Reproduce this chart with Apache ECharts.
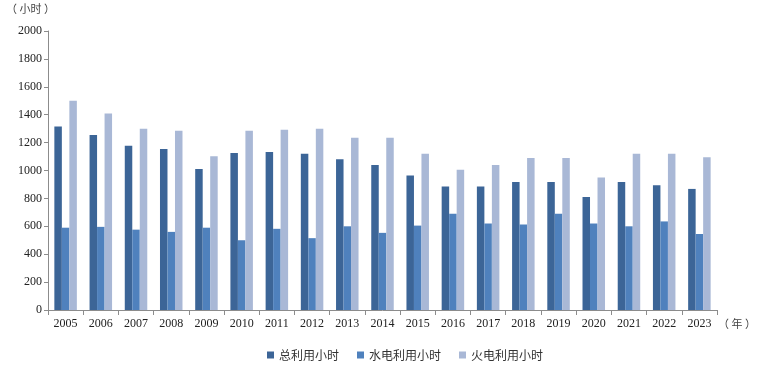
<!doctype html>
<html>
<head>
<meta charset="utf-8">
<title></title>
<script src="https://cdn.jsdelivr.net/npm/echarts@6/dist/echarts.min.js"></script>
<style>
  html, body { margin: 0; padding: 0; background: #fff; }
  #container { width: 759px; height: 376px; }
</style>
</head>
<body>
<div id="container"></div>
<script type="text/javascript">
var years = ['2005', '2006', '2007', '2008', '2009', '2010', '2011', '2012', '2013', '2014',
  '2015', '2016', '2017', '2018', '2019', '2020', '2021', '2022', '2023'];
var totalHours = [1315, 1255, 1178, 1155, 1010, 1125, 1132, 1120, 1080, 1040,
  965, 885, 885, 918, 918, 810, 918, 895, 868];
var hydroHours = [590, 596, 576, 560, 590, 500, 582, 515, 600, 553,
  605, 690, 620, 613, 690, 620, 600, 635, 545];
var thermalHours = [1500, 1408, 1300, 1285, 1103, 1285, 1292, 1300, 1235, 1235,
  1120, 1005, 1040, 1090, 1090, 950, 1120, 1120, 1095];
var seriesNames = ['总利用小时', '水电利用小时', '火电利用小时'];
var colors = ['#3c6597', '#4f81bd', '#a9b8d6'];

var dom = document.getElementById('container');
var myChart = echarts.init(dom);

var axisColor = '#8c8c8c';
var labelFont = { fontFamily: 'Liberation Serif', fontSize: 12, color: '#222' };

var option = {
  animation: false,
  color: colors,
  grid: { left: 48, right: 42, top: 31, bottom: 66 },
  legend: {
    bottom: 10,
    left: 262,
    itemWidth: 7,
    itemHeight: 7,
    itemGap: 18,
    icon: 'rect',
    textStyle: { fontFamily: 'Noto Sans CJK SC', fontSize: 12, color: '#333' },
    data: seriesNames
  },
  graphic: [
    { type: 'text', left: 6, top: 3, style: { text: '（ 小时 ）', fontFamily: 'Noto Sans CJK SC', fontSize: 11, fill: '#444' } },
    { type: 'text', left: 718, top: 318, style: { text: '（ 年 ）', fontFamily: 'Noto Sans CJK SC', fontSize: 11, fill: '#444' } }
  ],
  xAxis: {
    type: 'category',
    data: years,
    axisLine: { lineStyle: { color: axisColor } },
    axisTick: { show: true, alignWithLabel: false, length: 5, lineStyle: { color: axisColor } },
    axisLabel: Object.assign({ margin: 8, interval: 0 }, labelFont)
  },
  yAxis: {
    type: 'value',
    min: 0,
    max: 2000,
    interval: 200,
    splitLine: { show: false },
    axisLine: { show: true, lineStyle: { color: axisColor } },
    axisTick: { show: true, length: 4, lineStyle: { color: axisColor } },
    axisLabel: Object.assign({ margin: 6, formatter: function (v) { return String(v); } }, labelFont)
  },
  series: [
    { name: seriesNames[0], type: 'bar', data: totalHours, barWidth: 7.5, barGap: '0%' },
    { name: seriesNames[1], type: 'bar', data: hydroHours, barWidth: 7.5, barGap: '0%' },
    { name: seriesNames[2], type: 'bar', data: thermalHours, barWidth: 7.5, barGap: '0%' }
  ]
};

myChart.setOption(option, true);
</script>
</body>
</html>
